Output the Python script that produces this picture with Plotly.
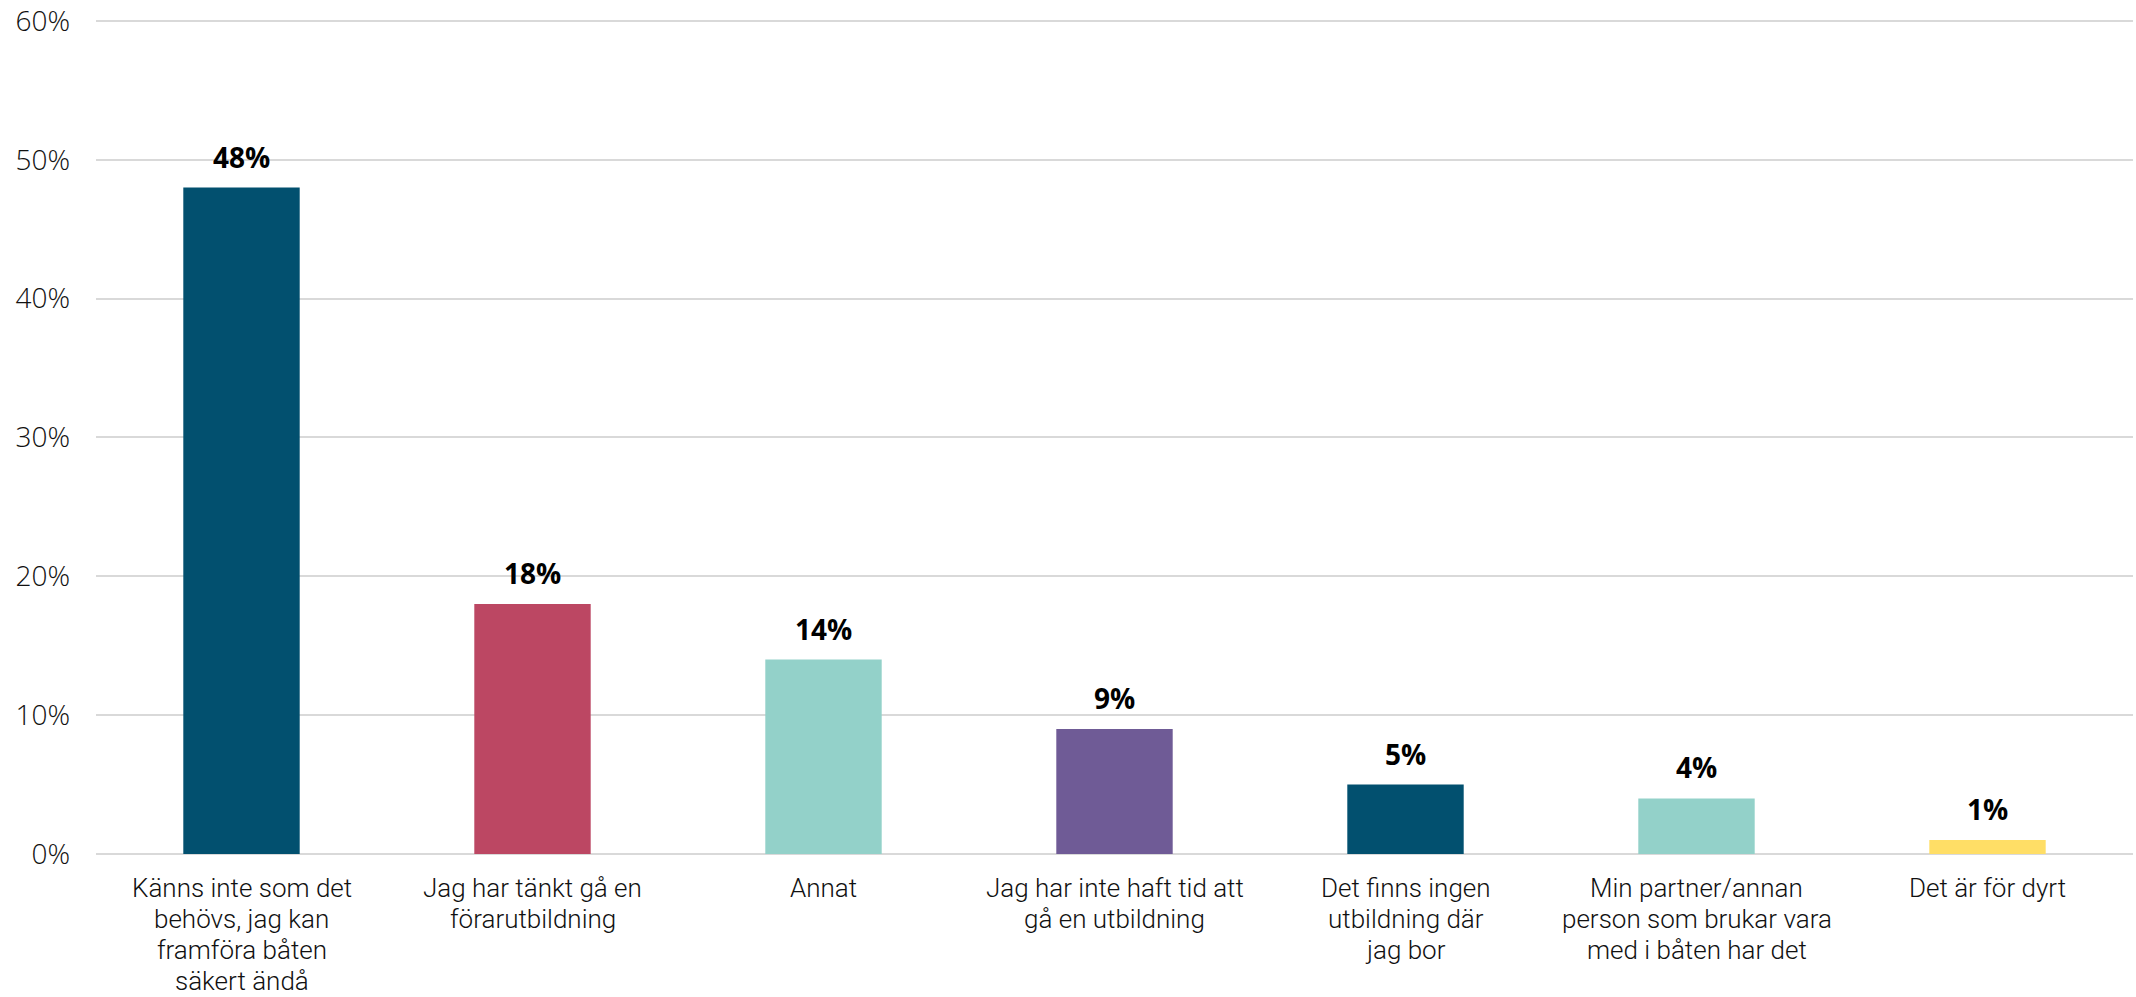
import plotly.graph_objects as go

categories = [
    "Känns inte som det<br>behövs, jag kan<br>framföra båten<br>säkert ändå",
    "Jag har tänkt gå en<br>förarutbildning",
    "Annat",
    "Jag har inte haft tid att<br>gå en utbildning",
    "Det finns ingen<br>utbildning där<br>jag bor",
    "Min partner/annan<br>person som brukar vara<br>med i båten har det",
    "Det är för dyrt",
]
values = [48, 18, 14, 9, 5, 4, 1]
labels = ["48%", "18%", "14%", "9%", "5%", "4%", "1%"]
colors = ["#02506F", "#BC4763", "#93D1C9", "#6F5B96", "#02506F", "#93D1C9", "#FFDE66"]
tick_vals = [0, 10, 20, 30, 40, 50, 60]
tick_text = ["0%", "10%", "20%", "30%", "40%", "50%", "60%"]

xs = list(range(len(categories)))

fig = go.Figure(go.Bar(
    x=xs,
    y=values,
    marker=dict(color=colors, line=dict(width=0)),
    width=0.4,
    hoverinfo="skip",
))

# value labels above bars
for x, v, t in zip(xs, values, labels):
    fig.add_annotation(
        x=x, y=v, text=t, showarrow=False,
        yanchor="bottom", yshift=10,
        font=dict(family="Open Sans", size=28, color="#000000", weight="bold"),
    )

# category labels, one line at a time for tight line spacing
for x, cat in zip(xs, categories):
    for i, line in enumerate(cat.split("<br>")):
        fig.add_annotation(
            x=x, y=0, text=line, showarrow=False,
            xanchor="center", yanchor="middle", yshift=-(34 + i * 31),
            borderpad=0,
            font=dict(family="Roboto", size=26, color="#111111", weight=300),
        )

fig.update_layout(
    width=2136, height=997,
    margin=dict(l=96, r=3, t=14, b=143, autoexpand=False),
    paper_bgcolor="white", plot_bgcolor="white",
    font=dict(family="Open Sans", size=25, color="#1a1a1a"),
    showlegend=False,
)
fig.update_xaxes(
    range=[-0.5, len(categories) - 0.5],
    showgrid=False, zeroline=False, showline=False,
    showticklabels=False, ticks="", automargin=False,
)
fig.update_yaxes(
    range=[0, 60.5],
    tickmode="array", tickvals=tick_vals, ticktext=tick_text,
    showgrid=True, gridcolor="#D9D9D9", gridwidth=2,
    zeroline=True, zerolinecolor="#D9D9D9", zerolinewidth=2,
    showline=False, ticks="", ticklabelstandoff=25, automargin=False,
    tickfont=dict(family="Open Sans", size=28, color="#111111", weight=300),
)

fig.write_html(
    "out.html",
    config={"displayModeBar": False},
    post_script="document.body.style.margin='0';",
)
